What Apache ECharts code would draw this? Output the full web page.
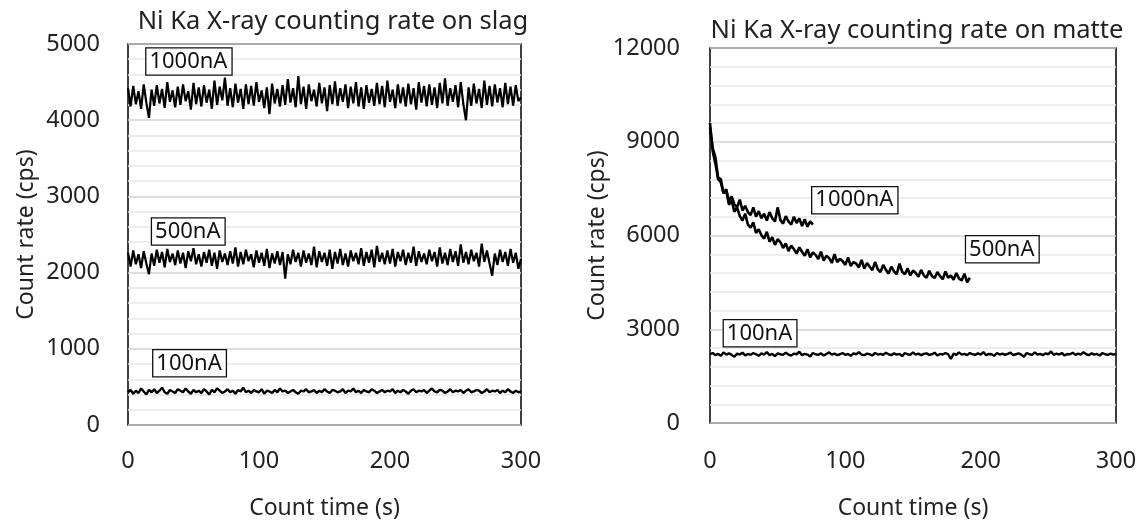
<!DOCTYPE html>
<html>
<head>
<meta charset="utf-8">
<script src="https://cdn.jsdelivr.net/npm/echarts@6/dist/echarts.min.js"></script>
<style>html,body{margin:0;padding:0;background:#fff}#c{width:1143px;height:525px}</style>
</head>
<body>
<div id="c"></div>
<script>
// ---------- DATA ----------
const leftTitle = 'Ni Ka X-ray counting rate on slag';
const rightTitle = 'Ni Ka X-ray counting rate on matte';
const xName = 'Count time (s)';
const yName = 'Count rate (cps)';
const seriesNames = ['1000nA', '500nA', '100nA'];
const step = 2; // sampling interval (s)

// slag, 0..300 s
const slag1000 = [
4420,4180,4450,4210,4380,4150,4470,4230,4030,4400,
4190,4460,4220,4410,4160,4500,4240,4390,4170,4440,
4200,4470,4250,4380,4140,4490,4210,4430,4180,4460,
4230,4400,4150,4520,4200,4440,4260,4560,4190,4420,
4170,4480,4230,4410,4150,4470,4210,4450,4190,4500,
4240,4390,4160,4430,4080,4480,4220,4410,4180,4460,
4200,4540,4230,4420,4170,4580,4210,4440,4150,4470,
4250,4400,4180,4490,4220,4430,4120,4460,4210,4510,
4190,4420,4240,4470,4160,4440,4220,4500,4180,4430,
4150,4460,4230,4410,4190,4490,4210,4450,4170,4520,
4240,4400,4160,4470,4220,4430,4180,4480,4210,4420,
4140,4500,4230,4450,4180,4470,4200,4430,4160,4490,
4220,4550,4190,4420,4240,4460,4170,4500,4210,4000,
4430,4190,4480,4220,4410,4160,4520,4200,4450,4180,
4470,4230,4420,4170,4490,4210,4440,4190,4460,4250,
4300];
const slag500 = [
2260,2080,2290,2110,2240,2060,2280,2120,1980,2250,
2090,2300,2130,2270,2070,2310,2140,2250,2100,2290,
2120,2260,2060,2280,2150,2320,2110,2240,2080,2270,
2130,2300,2090,2260,2050,2290,2140,2250,2100,2280,
2120,2330,2080,2270,2110,2300,2150,2240,2070,2290,
2130,2260,2090,2310,2060,2250,2120,2280,2100,2270,
1920,2240,2110,2300,2140,2260,2080,2290,2130,2250,
2100,2340,2070,2280,2140,2260,2090,2300,2050,2270,
2120,2310,2100,2250,2080,2290,2150,2260,2110,2320,
2090,2270,2130,2300,2070,2350,2140,2260,2110,2290,
2120,2310,2080,2270,2150,2300,2100,2260,2130,2340,
2090,2280,2140,2250,2110,2300,2150,2270,2080,2330,
2120,2260,2100,2310,2140,2280,2090,2370,2130,2270,
2110,2300,2150,2260,2080,2380,2140,2290,2120,1960,
2250,2100,2300,2140,2270,2090,2310,2130,2260,2050,
2180];
const slag100 = [
430,460,410,450,420,480,440,400,460,430,
470,420,450,490,430,410,460,440,420,470,
450,430,480,440,410,460,430,450,420,470,
440,400,460,430,480,450,420,440,470,430,
450,410,460,440,490,430,450,420,460,440,
430,470,410,450,440,420,460,430,480,440,
450,420,440,460,430,410,450,440,470,430,
440,460,420,450,430,470,440,420,460,450,
430,440,470,420,450,440,480,430,450,420,
460,440,430,470,450,420,440,460,430,450,
440,470,420,450,430,460,440,410,450,470,
430,450,440,460,420,450,480,440,430,460,
450,420,440,470,430,450,440,460,420,450,
470,430,440,460,450,420,440,470,430,450,
440,460,420,450,430,470,440,420,450,430,
440];

// matte
const matte1000 = [
9600,8700,8300,7800,7700,7350,7480,7100,7250,7000,
6900,7150,6800,6950,6750,6650,6900,6600,6780,6550,
6700,6480,6750,6550,6450,6900,6500,6380,6620,6450,
6350,6600,6400,6550,6300,6520,6280,6450,6350];
const matte500 = [
9450,8800,8500,7850,7800,7350,7450,6980,7120,6760,
6900,6620,6480,6700,6350,6250,6420,6080,6200,6010,
5900,6120,5800,5950,5700,5880,5790,5600,5750,5500,
5680,5560,5420,5620,5480,5350,5560,5300,5460,5380,
5250,5480,5200,5350,5280,5120,5400,5150,5250,5180,
5060,5300,5020,5150,5100,4980,5220,4940,5120,5000,
4890,5150,4920,4830,5060,4900,4780,5000,4850,4760,
5100,4840,4760,4950,4720,4880,4800,4680,4900,4720,
4650,4870,4700,4640,4830,4700,4600,4850,4650,4720,
4580,4800,4620,4560,4780,4500,4650];
const matte100 = [
2200,2240,2170,2210,2150,2260,2190,2230,2180,2120,
2220,2190,2250,2160,2210,2180,2240,2200,2150,2230,
2190,2270,2170,2210,2140,2230,2200,2180,2250,2190,
2160,2220,2200,2280,2170,2210,2190,2130,2240,2200,
2180,2230,2160,2210,2260,2190,2220,2170,2200,2240,
2180,2210,2150,2230,2200,2270,2190,2170,2220,2200,
2160,2240,2190,2210,2180,2250,2200,2170,2230,2190,
2210,2140,2240,2200,2180,2260,2190,2220,2170,2210,
2230,2180,2200,2250,2160,2210,2190,2240,2200,2050,
2220,2180,2260,2190,2210,2170,2240,2200,2180,2230,
2190,2270,2170,2210,2200,2150,2240,2190,2220,2180,
2210,2250,2170,2200,2230,2190,2120,2240,2200,2180,
2260,2190,2210,2170,2230,2200,2290,2180,2220,2190,
2240,2160,2210,2200,2250,2180,2220,2190,2270,2200,
2170,2230,2190,2210,2160,2240,2200,2180,2220,2190,
2210];

const xTicks = [0, 100, 200, 300];
const leftYTicks = [0, 1000, 2000, 3000, 4000, 5000];
const rightYTicks = [0, 3000, 6000, 9000, 12000];

// annotation anchors (data coordinates: time, count rate)
const leftNotes = [['1000nA', 46.5, 4770], ['500nA', 46, 2540], ['100nA', 47, 810]];
const rightNotes = [['1000nA', 107, 7130], ['500nA', 216, 5560], ['100nA', 37, 2870]];

// ---------- CHART ----------
const FONT = '"Noto Sans", "Open Sans", sans-serif';
const TXT = '#222';
const toPairs = arr => arr.map((v, i) => [i * step, v]);
const plain = v => String(v);

function yAxisCfg(gridIndex, ticks, margin, gap) {
  const interval = ticks[1] - ticks[0];
  return {
    type: 'value', gridIndex, min: ticks[0], max: ticks[ticks.length - 1], interval,
    name: yName, nameLocation: 'middle', nameGap: gap, nameRotate: 90,
    nameTextStyle: { fontFamily: FONT, fontSize: 23, color: TXT },
    axisLine: { show: false }, axisTick: { show: false },
    axisLabel: { fontFamily: FONT, fontSize: 23.5, color: TXT, margin, formatter: plain },
    splitLine: { show: true, lineStyle: { color: '#d2d2d2', width: 1.5 } },
    minorTick: { show: false, splitNumber: 5 },
    minorSplitLine: { show: true, lineStyle: { color: '#e8e8e8', width: 1.5 } }
  };
}
function xAxisCfg(gridIndex, margin, gap) {
  return {
    type: 'value', gridIndex, min: xTicks[0], max: xTicks[xTicks.length - 1],
    interval: xTicks[1] - xTicks[0],
    name: xName, nameLocation: 'middle', nameGap: gap,
    nameTextStyle: { fontFamily: FONT, fontSize: 23, color: TXT },
    axisLine: { show: false }, axisTick: { show: false },
    axisLabel: { fontFamily: FONT, fontSize: 23.5, color: TXT, margin, formatter: plain },
    splitLine: { show: false }
  };
}
function noteCfg(notes, name) {
  const n = notes.find(d => d[0] === name);
  return {
    symbol: 'rect', symbolSize: 0, silent: true,
    data: [{ coord: [n[1], n[2]], value: n[0] }],
    label: {
      show: true, position: 'inside', formatter: n[0],
      fontFamily: FONT, fontSize: 22, color: '#111',
      backgroundColor: '#fff', borderColor: '#111', borderWidth: 1.3,
      padding: [3, 4, 1, 3]
    }
  };
}
function lineSeries(name, data, xi, yi, notes, width) {
  return {
    type: 'line', name, data: toPairs(data), xAxisIndex: xi, yAxisIndex: yi,
    showSymbol: false, symbol: 'none', animation: false,
    lineStyle: { color: '#000', width },
    markPoint: noteCfg(notes, name), z: 3
  };
}

const chart = echarts.init(document.getElementById('c'), null, { renderer: 'canvas' });
chart.setOption({
  animation: false,
  backgroundColor: '#fff',
  title: [
    { text: leftTitle, left: 328, top: 4, textAlign: 'center',
      textStyle: { fontFamily: FONT, fontSize: 25.5, fontWeight: 'normal', color: TXT } },
    { text: rightTitle, left: 912, top: 13, textAlign: 'center',
      textStyle: { fontFamily: FONT, fontSize: 25.5, fontWeight: 'normal', color: TXT } }
  ],
  grid: [
    { left: 128, right: 622, top: 44, bottom: 92, show: true, borderColor: '#000', borderWidth: 1.5, backgroundColor: 'transparent' },
    { left: 710, right: 27, top: 48, bottom: 101, show: true, borderColor: '#000', borderWidth: 1.5, backgroundColor: 'transparent' }
  ],
  xAxis: [xAxisCfg(0, 24, 72), xAxisCfg(1, 26, 74)],
  yAxis: [yAxisCfg(0, leftYTicks, 28, 90), yAxisCfg(1, rightYTicks, 30, 78)],
  series: [
    lineSeries('1000nA', slag1000, 0, 0, leftNotes, 2.2),
    lineSeries('500nA', slag500, 0, 0, leftNotes, 2.2),
    lineSeries('100nA', slag100, 0, 0, leftNotes, 2.4),
    lineSeries('1000nA', matte1000, 1, 1, rightNotes, 2.6),
    lineSeries('500nA', matte500, 1, 1, rightNotes, 2.6),
    lineSeries('100nA', matte100, 1, 1, rightNotes, 2.4)
  ]
});
</script>
</body>
</html>
